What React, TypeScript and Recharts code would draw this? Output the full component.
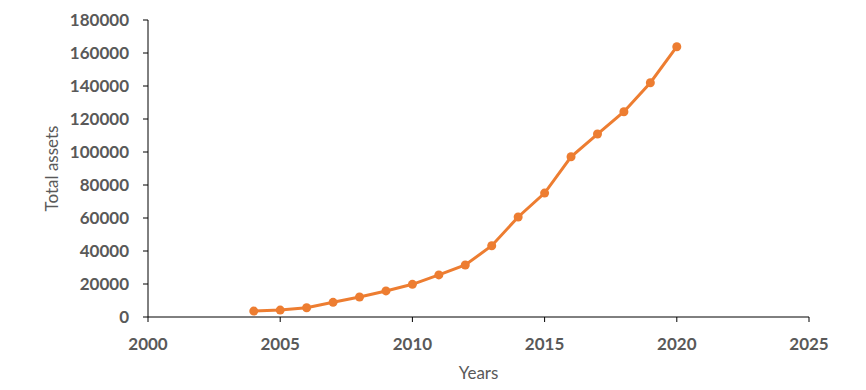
import { LineChart, Line, XAxis, YAxis } from "recharts";

const years = [
  2004, 2005, 2006, 2007, 2008, 2009, 2010, 2011, 2012,
  2013, 2014, 2015, 2016, 2017, 2018, 2019, 2020,
];
const totalAssets = [
  3600, 4200, 5600, 8900, 12100, 15800, 19800, 25500, 31500,
  43200, 60600, 75100, 97100, 110900, 124400, 142000, 163800,
];
const xTicks = [2000, 2005, 2010, 2015, 2020, 2025];
const yTicks = [0, 20000, 40000, 60000, 80000, 100000, 120000, 140000, 160000, 180000];

const data = years.map((year, i) => ({ year, assets: totalAssets[i] }));

const font = "Lato, 'Open Sans', sans-serif";
const tickStyle = { fontSize: 17, fontWeight: 700, fill: "#595959", fontFamily: font };
const orange = "#ED7D31";

export default function App() {
  return (
    <div style={{ position: "absolute", left: 0, top: 0, background: "#fff" }}>
      <LineChart
        width={866}
        height={390}
        data={data}
        margin={{ top: 20, right: 57, bottom: 0, left: 0 }}
      >
        <XAxis
          dataKey="year"
          type="number"
          domain={[2000, 2025]}
          ticks={xTicks}
          height={73}
          tick={tickStyle}
          tickSize={5}
          tickMargin={16}
          stroke="#000"
          tickLine={{ stroke: "#000" }}
          label={{
            value: "Years",
            position: "insideBottom",
            offset: 11,
            style: { fontSize: 17, fill: "#595959", fontFamily: font },
          }}
        />
        <YAxis
          type="number"
          domain={[0, 180000]}
          ticks={yTicks}
          width={148}
          tick={tickStyle}
          tickSize={5}
          tickMargin={14}
          stroke="#000"
          tickLine={{ stroke: "#000" }}
          label={{
            value: "Total assets",
            angle: -90,
            position: "center",
            dx: -22,
            style: { fontSize: 17, fill: "#595959", fontFamily: font, textAnchor: "middle" },
          }}
        />
        <Line
          type="linear"
          dataKey="assets"
          stroke={orange}
          strokeWidth={3}
          dot={{ r: 4.5, fill: orange, stroke: orange, strokeWidth: 0 }}
          isAnimationActive={false}
        />
      </LineChart>
    </div>
  );
}
